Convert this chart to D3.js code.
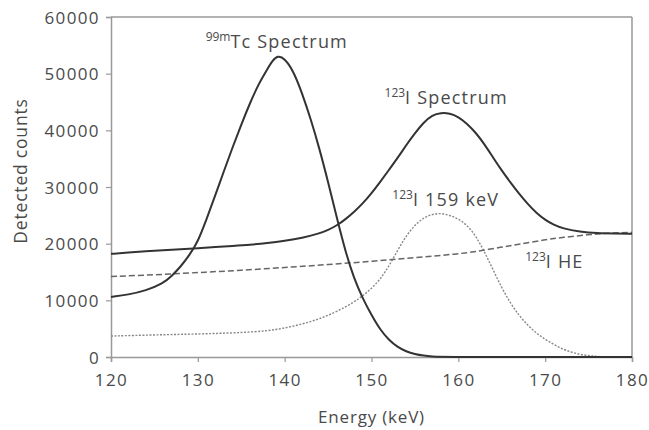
<!DOCTYPE html>
<html>
<head>
<meta charset="utf-8">
<script src="https://cdn.jsdelivr.net/npm/d3@7"></script>
<style>
  body { margin: 0; background: #fff; }
  svg text { font-family: "Open Sans", "Noto Sans", sans-serif; fill: #4a4a4a; }
</style>
</head>
<body>
<svg id="chart"></svg>
<script>
// x ticks / y ticks
const xTicks = [120, 130, 140, 150, 160, 170, 180];
const yTicks = [0, 10000, 20000, 30000, 40000, 50000, 60000];

// 99mTc spectrum (solid)
const tcEnergy = [120, 122, 124, 126, 127, 128, 129, 130, 131, 132, 133, 134, 135, 136, 137, 138, 138.6, 139.2, 140, 141, 142, 143, 144, 145, 146, 147, 148, 149, 150, 151, 152, 153, 154, 155, 156, 157, 158, 180];
const tcCounts = [10600, 11000, 11700, 13000, 14300, 15900, 17900, 20300, 24300, 28500, 32800, 37000, 41000, 44800, 48200, 50800, 52300, 53200, 52700, 50500, 46600, 42000, 36800, 30900, 24600, 18600, 13800, 10300, 7400, 4800, 3000, 1750, 950, 500, 230, 80, 0, 0];

// 123I spectrum (solid)
const iEnergy = [120, 122, 124, 126, 128, 130, 132, 134, 136, 138, 140, 142, 144, 145, 146, 147, 148, 149, 150, 151, 152, 153, 154, 155, 156, 157, 158, 159, 160, 161, 162, 163, 164, 165, 166, 167, 168, 169, 170, 171, 172, 174, 176, 178, 180];
const iCounts = [18200, 18450, 18650, 18850, 19000, 19200, 19400, 19600, 19800, 20100, 20500, 21000, 21800, 22400, 23200, 24300, 25600, 27100, 28900, 30900, 33000, 35100, 37400, 39500, 41400, 42700, 43100, 43000, 42400, 41200, 39600, 37600, 35200, 32900, 30800, 28800, 27000, 25400, 24200, 23300, 22700, 22100, 21850, 21800, 21750];

// 123I HE (dashed)
const heEnergy = [120, 125, 130, 135, 140, 145, 150, 155, 160, 162, 165, 167, 170, 172, 175, 177, 180];
const heCounts = [14200, 14500, 14900, 15300, 15800, 16300, 16900, 17500, 18200, 18600, 19400, 19900, 20700, 21100, 21600, 21850, 22000];

// 123I 159 keV (dotted)
const keEnergy = [120, 125, 130, 135, 138, 140, 142, 144, 146, 148, 149, 150, 151, 152, 153, 154, 155, 156, 157, 158, 159, 160, 161, 162, 163, 164, 165, 166, 167, 168, 169, 170, 171, 172, 173, 174, 175, 176, 177, 180];
const keCounts = [3700, 3900, 4050, 4300, 4600, 5100, 5800, 6700, 8000, 9700, 10800, 12100, 13700, 16000, 18800, 21400, 23300, 24600, 25200, 25400, 25000, 24400, 23300, 21400, 18600, 15400, 12200, 9500, 7300, 5600, 4200, 3100, 2200, 1400, 850, 450, 250, 100, 0, 0];

const width = 649, height = 430;
const margin = {left: 111, top: 17, right: 17, bottom: 73};

const svg = d3.select("#chart").attr("width", width).attr("height", height);

const x = d3.scaleLinear().domain([120, 180]).range([margin.left, width - margin.right]);
const y = d3.scaleLinear().domain([0, 60000]).range([height - margin.bottom, margin.top]);

const axisColor = "#999";

// frame top and right
svg.append("line")
    .attr("x1", x(120)).attr("x2", x(180)).attr("y1", y(60000)).attr("y2", y(60000))
    .attr("stroke", axisColor).attr("stroke-width", 1.5);
svg.append("line")
    .attr("x1", x(180)).attr("x2", x(180)).attr("y1", y(60000)).attr("y2", y(0))
    .attr("stroke", axisColor).attr("stroke-width", 1.5);

const gx = svg.append("g")
    .attr("transform", `translate(0,${y(0)})`)
    .call(d3.axisBottom(x).tickValues(xTicks).tickSize(5).tickPadding(12).tickFormat(d3.format("d")));
const gy = svg.append("g")
    .attr("transform", `translate(${x(120)},0)`)
    .call(d3.axisLeft(y).tickValues(yTicks).tickSize(5).tickPadding(6).tickFormat(d3.format("d")));

[gx, gy].forEach(g => {
    g.select(".domain").attr("stroke", axisColor).attr("stroke-width", 1.5);
    g.selectAll(".tick line").attr("stroke", axisColor).attr("stroke-width", 1.2);
    g.selectAll(".tick text")
        .style("font-size", "17px")
        .style("letter-spacing", "1.4px")
        .attr("fill", "#4a4a4a");
});
gy.selectAll(".tick text").attr("dy", "0.36em");

// series
const line = d3.line().x(d => x(d[0])).y(d => y(d[1])).curve(d3.curveBasis);
const pairs = (xs, ys) => xs.map((v, i) => [v, ys[i]]);

svg.append("path")
    .datum(pairs(keEnergy, keCounts))
    .attr("d", line)
    .attr("fill", "none").attr("stroke", "#888").attr("stroke-width", 1.4)
    .attr("stroke-dasharray", "2,1.5");

svg.append("path")
    .datum(pairs(heEnergy, heCounts))
    .attr("d", line)
    .attr("fill", "none").attr("stroke", "#666").attr("stroke-width", 1.5)
    .attr("stroke-dasharray", "6,3");

svg.append("path")
    .datum(pairs(iEnergy, iCounts))
    .attr("d", line)
    .attr("fill", "none").attr("stroke", "#333").attr("stroke-width", 2);

svg.append("path")
    .datum(pairs(tcEnergy, tcCounts))
    .attr("d", line)
    .attr("fill", "none").attr("stroke", "#333").attr("stroke-width", 2);

// curve labels
const labels = [
    {sup: "99m", main: "Tc Spectrum", e: 130.9, c: 54500},
    {sup: "123", main: "I Spectrum", e: 151.5, c: 44650},
    {sup: "123", main: "I 159 keV", e: 152.4, c: 26650},
    {sup: "123", main: "I HE", e: 167.7, c: 15700}
];
labels.forEach(l => {
    const t = svg.append("text")
        .attr("x", x(l.e)).attr("y", y(l.c))
        .style("font-size", "18px");
    t.append("tspan").text(l.sup)
        .style("font-size", "12px")
        .attr("dy", "-7");
    t.append("tspan").text(l.main)
        .style("letter-spacing", "1.2px")
        .attr("dy", "7");
});

// axis titles
svg.append("text")
    .attr("x", (x(120) + x(180)) / 2)
    .attr("y", 423)
    .attr("text-anchor", "middle")
    .style("font-size", "17px")
    .style("letter-spacing", "0.8px")
    .text("Energy (keV)");

svg.append("text")
    .attr("transform", `translate(27,${171}) rotate(-90)`)
    .attr("text-anchor", "middle")
    .style("font-size", "17.5px")
    .style("letter-spacing", "0.8px")
    .text("Detected counts");
</script>
</body>
</html>
